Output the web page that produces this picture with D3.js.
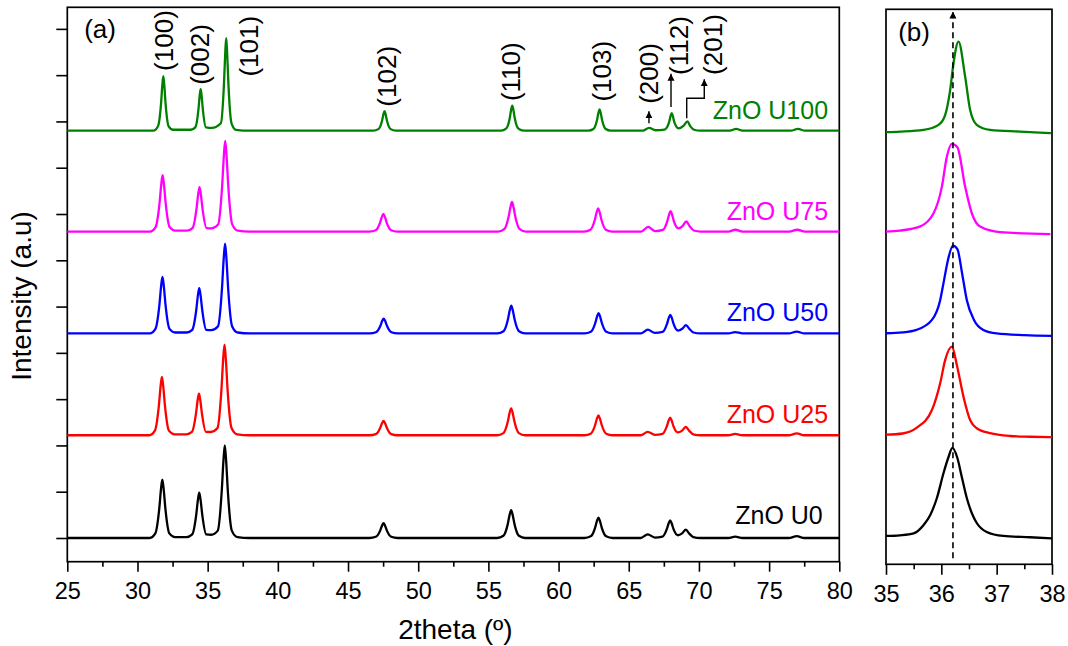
<!DOCTYPE html>
<html>
<head>
<meta charset="utf-8">
<script src="https://cdn.jsdelivr.net/npm/d3@7"></script>
<style>
body{margin:0;background:#fff;}
text{font-family:"Liberation Sans",Arial,sans-serif;}
</style>
</head>
<body>
<script>
// series names, vertical offsets (a.u.) and the patterns
const SERIES=["ZnO U0","ZnO U25","ZnO U50","ZnO U75","ZnO U100"];
const OFFSETS=[0,111,221,331,440];

const U0=[[25,0],[30.87,0],[31.27,5],[31.55,31.5],[31.68,53.5],[31.77,63],[31.86,53.5],[31.99,31.5],[32.27,5],[32.67,1],
  [33.5,1],[33.9,3.9],[34.18,24.5],[34.31,41.7],[34.4,49],[34.49,41.7],[34.62,24.5],[34.9,3.9],[35.25,3.5],
  [35.72,8],[36.0,50],[36.13,85],[36.22,100],[36.31,85],[36.44,50],[36.72,8],[37.12,1],[38,0],
  [46.53,0],[46.98,1.3],[47.29,8],[47.43,13.6],[47.53,16],[47.63,13.6],[47.77,8],[48.08,1.3],[48.53,0],
  [55.62,0],[56.07,2.4],[56.38,15],[56.52,25.5],[56.62,30],[56.72,25.5],[56.86,15],[57.17,2.4],[57.62,0],
  [61.84,0],[62.29,1.8],[62.6,11],[62.74,18.7],[62.84,22],[62.94,18.7],[63.08,11],[63.39,1.8],[63.84,0],
  [65.85,0],[66.35,4],[66.85,0.5],[67.4,1.5],[67.71,9.5],[67.85,16.2],[67.95,19],[68.05,16.2],[68.19,9.5],[68.5,3],
  [68.8,5],[69.07,9],[69.3,5],[69.6,1],[70.1,0],[72.1,0],[72.58,1.5],[73.1,0],[76.4,0],[76.97,2],[77.5,0],[80,0]];

const U25=[[25,0],[30.84,0],[31.24,5],[31.52,31.5],[31.65,53.5],[31.74,63],[31.83,53.5],[31.96,31.5],[32.24,5],[32.64,1],
  [33.48,1],[33.88,3.6],[34.16,22.5],[34.29,38.3],[34.38,45],[34.47,38.3],[34.6,22.5],[34.88,3.6],[35.23,3.5],
  [35.7,7.8],[35.98,49],[36.11,83.3],[36.2,98],[36.29,83.3],[36.42,49],[36.7,7.8],[37.1,1],[38,0],
  [46.53,0],[46.98,1.2],[47.29,7.8],[47.43,13.2],[47.53,15.5],[47.63,13.2],[47.77,7.8],[48.08,1.2],[48.53,0],
  [55.62,0],[56.07,2.3],[56.38,14.5],[56.52,24.7],[56.62,29],[56.72,24.7],[56.86,14.5],[57.17,2.3],[57.62,0],
  [61.84,0],[62.29,1.7],[62.6,10.8],[62.74,18.3],[62.84,21.5],[62.94,18.3],[63.08,10.8],[63.39,1.7],[63.84,0],
  [65.85,0],[66.35,3.6],[66.85,0.5],[67.4,1.5],[67.71,9.5],[67.85,16.2],[67.95,19],[68.05,16.2],[68.19,9.5],[68.5,3],
  [68.8,5],[69.07,9],[69.3,5],[69.6,1],[70.1,0],[72.1,0],[72.58,1.5],[73.1,0],[76.4,0],[76.97,2],[77.5,0],[80,0]];

const U50=[[25,0],[30.88,0],[31.28,4.9],[31.56,30.5],[31.69,51.9],[31.78,61],[31.87,51.9],[32.0,30.5],[32.28,4.9],[32.68,1],
  [33.5,1],[33.9,3.9],[34.18,24.5],[34.31,41.7],[34.4,49],[34.49,41.7],[34.62,24.5],[34.9,3.9],[35.26,3.5],
  [35.74,7.8],[36.02,48.5],[36.15,82.5],[36.24,97],[36.33,82.5],[36.46,48.5],[36.74,7.8],[37.14,1],[38,0],
  [46.54,0],[46.99,1.3],[47.3,8],[47.44,13.6],[47.54,16],[47.64,13.6],[47.78,8],[48.09,1.3],[48.54,0],
  [55.63,0],[56.08,2.4],[56.39,15],[56.53,25.5],[56.63,30],[56.73,25.5],[56.87,15],[57.18,2.4],[57.63,0],
  [61.85,0],[62.3,1.8],[62.61,11],[62.75,18.7],[62.85,22],[62.95,18.7],[63.09,11],[63.4,1.8],[63.85,0],
  [65.86,0],[66.36,4],[66.86,0.5],[67.41,1.6],[67.72,10],[67.86,17],[67.96,20],[68.06,17],[68.2,10],[68.51,3],
  [68.81,5],[69.08,9],[69.31,5],[69.61,1],[70.11,0],[72.1,0],[72.58,1.5],[73.1,0],[76.4,0],[76.97,2],[77.5,0],[80,0]];

const U75=[[25,0],[30.89,0],[31.29,4.9],[31.57,30.5],[31.7,51.9],[31.79,61],[31.88,51.9],[32.01,30.5],[32.29,4.9],[32.69,1],
  [33.52,1],[33.92,3.8],[34.2,24],[34.33,40.8],[34.42,48],[34.51,40.8],[34.64,24],[34.92,3.8],[35.27,3.5],
  [35.75,7.8],[36.03,49],[36.16,83.3],[36.25,98],[36.34,83.3],[36.47,49],[36.75,7.8],[37.15,1],[38,0],
  [46.52,0],[46.97,1.5],[47.28,9.5],[47.42,16.2],[47.52,19],[47.62,16.2],[47.76,9.5],[48.07,1.5],[48.52,0],
  [55.68,0],[56.13,2.6],[56.44,16],[56.58,27.2],[56.68,32],[56.78,27.2],[56.92,16],[57.23,2.6],[57.68,0],
  [61.82,0],[62.27,2],[62.58,12.5],[62.72,21.3],[62.82,25],[62.92,21.3],[63.06,12.5],[63.37,2],[63.82,0],
  [65.88,0],[66.38,5],[66.88,0.5],[67.43,1.8],[67.74,11],[67.88,18.7],[67.98,22],[68.08,18.7],[68.22,11],[68.53,3.5],
  [68.83,6],[69.1,11],[69.33,6],[69.63,1.2],[70.13,0],[72.1,0],[72.6,2],[73.1,0],[76.45,0],[77.0,2],[77.55,0],[80,0]];

const U100=[[25,0],[31.14,0],[31.46,4.7],[31.68,29.5],[31.775,50.2],[31.84,59],[31.905,50.2],[32.0,29.5],[32.22,4.7],[32.54,1],
  [33.8,1],[34.12,3.6],[34.34,22.5],[34.435,38.3],[34.5,45],[34.565,38.3],[34.66,22.5],[34.88,3.6],[35.3,3],
  [35.94,8],[36.16,50],[36.255,85],[36.32,100],[36.385,85],[36.48,50],[36.7,8],[37.02,1],[38,0],
  [46.8,0],[47.16,1.7],[47.42,10.5],[47.525,17.9],[47.6,21],[47.675,17.9],[47.78,10.5],[48.04,1.7],[48.4,0],
  [55.9,0],[56.26,2.2],[56.52,13.5],[56.625,23],[56.7,27],[56.775,23],[56.88,13.5],[57.14,2.2],[57.5,0],
  [62.12,0],[62.48,1.8],[62.74,11.5],[62.845,19.6],[62.92,23],[62.995,19.6],[63.1,11.5],[63.36,1.8],[63.72,0],
  [66.0,0],[66.45,3],[66.9,0.5],[67.55,1.2],[67.88,9.5],[67.985,16.2],[68.06,19],[68.135,16.2],[68.24,9.5],[68.55,2.5],
  [68.92,5.5],[69.18,10],[69.38,5],[69.66,1],[70.1,0],[72.2,0],[72.65,2],[73.1,0],[76.55,0],[77.05,2],[77.55,0],[80,0]];

// (101) region, panel (b)
const Z_U0=[[35.0,2.2],[35.25,2.9],[35.5,5],[35.68,14],[35.8,24.9],[35.92,43.2],[36.04,70.2],[36.13,87.5],[36.2,97.3],
  [36.29,86.4],[36.37,65.9],[36.46,43.2],[36.55,27],[36.64,16.2],[36.82,6.5],[37.12,2.2],[37.6,0.8],[38.0,-0.3]];
const Z_U25=[[35.0,0.6],[35.3,1.9],[35.55,7.9],[35.83,27.3],[35.98,56.5],[36.07,81.4],[36.19,95.7],[36.28,76],
  [36.4,41.7],[36.52,16.5],[36.64,7.6],[36.88,2.2],[37.24,-0.8],[37.6,-1.6],[38.0,-2.2]];
const Z_U50=[[35.0,0.2],[35.3,1.1],[35.55,3.8],[35.83,14.6],[35.98,36.2],[36.04,54.6],[36.12,79.4],[36.21,94.9],
  [36.29,91],[36.38,63.2],[36.46,36.2],[36.59,14.6],[36.76,3.8],[37.0,0],[37.5,-1.9],[38.0,-2.7]];
const Z_U75=[[35.0,0],[35.25,1.1],[35.61,5.4],[35.86,19.9],[36.01,48.6],[36.1,81],[36.19,94.8],[36.29,91.2],
  [36.43,48.6],[36.55,19.9],[36.7,5.4],[37.06,-0.6],[37.97,-2.8]];
const Z_U100=[[35.0,-1.6],[35.25,-1],[35.68,0.9],[35.95,6.3],[36.07,17.1],[36.16,44.1],[36.22,72.9],[36.31,96.3],
  [36.43,58.5],[36.52,22.5],[36.64,6.3],[36.88,0.9],[37.42,-1],[37.98,-2.7]];

const PATTERNS=[U0,U25,U50,U75,U100];
const ZOOMS=[Z_U0,Z_U25,Z_U50,Z_U75,Z_U100];

const PLANES=["(100)","(002)","(101)","(102)","(110)","(103)","(200)","(112)","(201)"];

const X_TICKS_A=[25,30,35,40,45,50,55,60,65,70,75,80];
const X_MINOR_A=[27.5,32.5,37.5,42.5,47.5,52.5,57.5,62.5,67.5,72.5,77.5];
const Y_TICKS=[0,50,100,150,200,250,300,350,400,450,500,550];
const X_TICKS_B=[35,36,37,38];
const X_MINOR_B=[35.5,36.5,37.5];
const PEAK_101=36.21;

// layout
const w=1068, h=646;
const A={left:67.3,right:839.3,top:7.3,bottom:561.7};
const B={left:886,right:1052,top:9.3,bottom:564.3};
const COLORS=["#000000","#ff0000","#0000ff","#ff00ff","#008000"];
const font="'Liberation Sans',Arial,sans-serif";

const xA=d3.scaleLinear().domain([25,80]).range([A.left,A.right]);
const xB=d3.scaleLinear().domain([35,38]).range([B.left,B.right]);
const y=d3.scaleLinear().domain([-25.6,573.3]).range([A.bottom,A.top]);

const svg=d3.select("body").append("svg").attr("width",w).attr("height",h);

const defs=svg.append("defs");
defs.append("marker").attr("id","arrow")
  .attr("viewBox","0 0 10 10").attr("refX",10).attr("refY",5)
  .attr("markerWidth",7).attr("markerHeight",8).attr("markerUnits","userSpaceOnUse")
  .attr("orient","auto")
  .append("path").attr("d","M0,0L10,5L0,10Z").attr("fill","#000");

// frames
[A,B].forEach(p=>{
  svg.append("rect")
    .attr("x",p.left).attr("y",p.top)
    .attr("width",p.right-p.left).attr("height",p.bottom-p.top)
    .attr("fill","none").attr("stroke","#000").attr("stroke-width",1.7);
});

function styleAxis(g,size){
  g.select(".domain").remove();
  g.selectAll("line").attr("stroke","#000").attr("stroke-width",1.6);
  g.selectAll("text").attr("font-size",size).attr("font-family",font).attr("fill","#000");
}

// x axes
svg.append("g").attr("transform",`translate(0,${A.bottom})`)
  .call(d3.axisBottom(xA).tickValues(X_TICKS_A).tickSize(10).tickPadding(10.5).tickFormat(d3.format("d")))
  .call(g=>styleAxis(g,23.5));
svg.append("g").attr("transform",`translate(0,${A.bottom})`)
  .call(d3.axisBottom(xA).tickValues(X_MINOR_A).tickSize(5).tickFormat(""))
  .call(g=>styleAxis(g,23.5));
svg.append("g").attr("transform",`translate(0,${B.bottom})`)
  .call(d3.axisBottom(xB).tickValues(X_TICKS_B).tickSize(10.5).tickPadding(10.2).tickFormat(d3.format("d")))
  .call(g=>styleAxis(g,23.5));
svg.append("g").attr("transform",`translate(0,${B.bottom})`)
  .call(d3.axisBottom(xB).tickValues(X_MINOR_B).tickSize(5).tickFormat(""))
  .call(g=>styleAxis(g,23.5));
// y axis (no labels)
svg.append("g").attr("transform",`translate(${A.left},0)`)
  .call(d3.axisLeft(y).tickValues(Y_TICKS).tickSize(11).tickFormat(""))
  .call(g=>styleAxis(g,23.5));

// patterns
const lineA=d3.line().x(d=>xA(d[0])).y(d=>y(d[1])).curve(d3.curveMonotoneX);
const lineB=d3.line().x(d=>xB(d[0])).y(d=>y(d[1])).curve(d3.curveMonotoneX);

PATTERNS.forEach((pts,i)=>{
  svg.append("path")
    .datum(pts.map(p=>[p[0],p[1]+OFFSETS[i]]))
    .attr("d",lineA)
    .attr("fill","none").attr("stroke",COLORS[i]).attr("stroke-width",2.3)
    .attr("stroke-linejoin","round");
});
ZOOMS.forEach((pts,i)=>{
  svg.append("path")
    .datum(pts.map(p=>[p[0],p[1]+OFFSETS[i]]))
    .attr("d",lineB)
    .attr("fill","none").attr("stroke",COLORS[i]).attr("stroke-width",2.3)
    .attr("stroke-linejoin","round");
});

// series labels
const labelEnd=[78.82,79.2,79.2,79.2,79.2];
const labelRise=[14.8,13.6,13.1,12.3,12.3];
SERIES.forEach((s,i)=>{
  svg.append("text")
    .text(s)
    .attr("x",xA(labelEnd[i]))
    .attr("y",y(OFFSETS[i]+labelRise[i]))
    .attr("text-anchor","end")
    .attr("font-size",25)
    .attr("fill",COLORS[i]);
});

// Miller indices (rotated, start at bottom)
const planeX=[31.86,34.43,37.92,47.73,56.61,63.07,66.39,68.58,70.97];
const planeY=[504.6,489.5,498.5,466,472,471.5,469,500.3,500.3];
PLANES.forEach((p,i)=>{
  svg.append("text")
    .text(p)
    .attr("transform",`translate(${xA(planeX[i])},${y(planeY[i])}) rotate(-90)`)
    .attr("dy","0.36em")
    .attr("font-size",26)
    .attr("fill","#000");
});

// pointer arrows for (200), (112), (201)
svg.append("line")
  .attr("x1",xA(66.44)).attr("y1",y(448)).attr("x2",xA(66.44)).attr("y2",y(461))
  .attr("stroke","#000").attr("stroke-width",1.4).attr("marker-end","url(#arrow)");
svg.append("line")
  .attr("x1",xA(68.01)).attr("y1",y(465.7)).attr("x2",xA(68.01)).attr("y2",y(501.4))
  .attr("stroke","#000").attr("stroke-width",1.4).attr("marker-end","url(#arrow)");
svg.append("path")
  .attr("d",d3.line()([[xA(69.13),y(453.5)],[xA(69.13),y(475.1)],[xA(70.38),y(475.1)],[xA(70.38),y(495.7)]]))
  .attr("fill","none").attr("stroke","#000").attr("stroke-width",1.4).attr("marker-end","url(#arrow)");

// dashed guide at the (101) position
svg.append("line")
  .attr("x1",xB(PEAK_101)).attr("y1",y(-22)).attr("x2",xB(PEAK_101)).attr("y2",y(568.7))
  .attr("stroke","#000").attr("stroke-width",1.6).attr("stroke-dasharray","6,4")
  .attr("marker-end","url(#arrow)");

// panel tags
svg.append("text").text("(a)").attr("x",xA(26.2)).attr("y",38).attr("font-size",26);
svg.append("text").text("(b)").attr("x",xB(35.22)).attr("y",41).attr("font-size",26);

// axis titles
svg.append("text").text("2theta (º)")
  .attr("x",xA(52.65)).attr("y",639)
  .attr("text-anchor","middle").attr("font-size",28);
svg.append("text").text("Intensity (a.u)")
  .attr("transform","translate(31,296) rotate(-90)")
  .attr("text-anchor","middle").attr("font-size",28);
</script>
</body>
</html>
